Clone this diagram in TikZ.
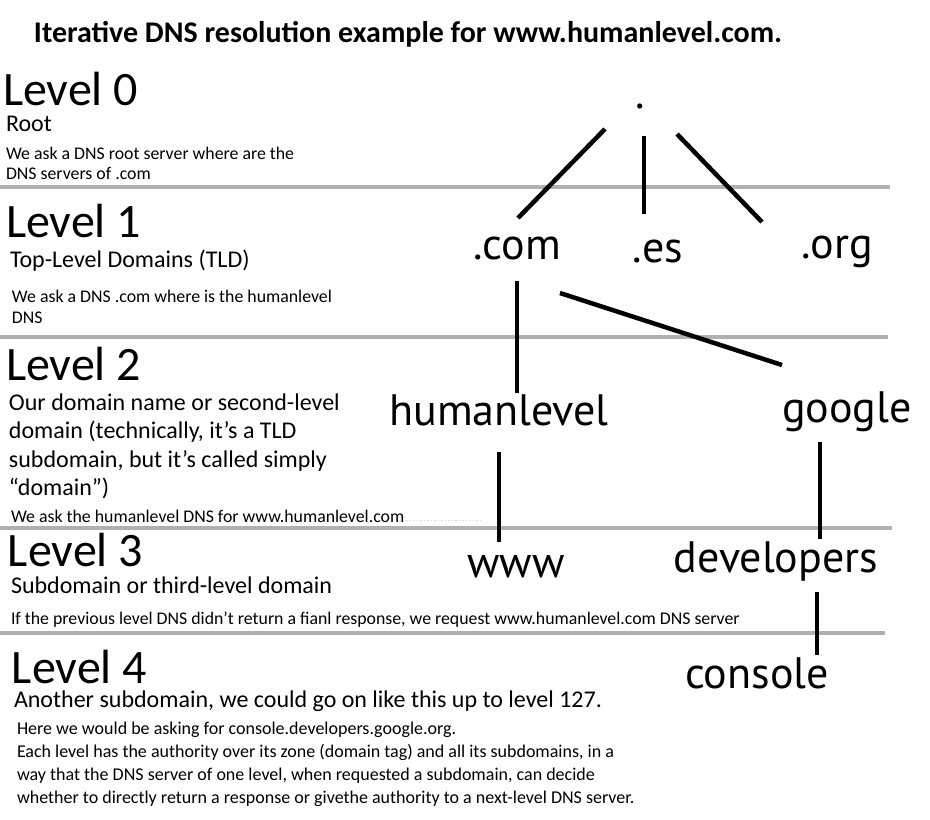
\documentclass[tikz,border=0pt]{standalone}
\usepackage{fontspec}
\setmainfont{Carlito}
\newfontfamily\treefont{PT Sans}
\usetikzlibrary{calc}
\definecolor{sepgray}{RGB}{176,176,176}
\begin{document}
\begin{tikzpicture}[x=1pt,y=-1pt,
  txt/.style={anchor=base west, inner sep=0pt, outer sep=0pt},
  ttl/.style={txt, font=\bfseries\fontsize{30}{30}\selectfont},
  lvl/.style={txt, font=\fontsize{48}{48}\selectfont},
  sub/.style={txt, font=\fontsize{24}{24}\selectfont},
  small/.style={txt, font=\fontsize{17.8}{17.8}\selectfont},
  smaller/.style={txt, font=\fontsize{18}{18}\selectfont},
  tree/.style={anchor=base, inner sep=0pt, outer sep=0pt, font=\treefont\fontsize{44}{44}\selectfont},
  edge/.style={line width=4.5pt, black},
  sepline/.style={line width=4pt, sepgray}]
\fill[white] (0,0) rectangle (930,820);
\useasboundingbox (0,0) rectangle (930,820);

% separators
\coordinate (s0a) at (0,187); \coordinate (s0b) at (890,187);
\coordinate (s1a) at (0,337); \coordinate (s1b) at (888,337);
\coordinate (s2a) at (0,528); \coordinate (s2b) at (892,528);
\coordinate (s3a) at (0,633); \coordinate (s3b) at (885,633);
\draw[sepline] (s0a) -- (s0b);
\draw[sepline] (s1a) -- (s1b);
\draw[sepline] (s2a) -- (s2b);
\draw[sepline] (s3a) -- (s3b);

% title
\node[ttl] (title) at (34,42) {Iterative DNS resolution example for www.humanlevel.com.};

% level 0
\node[lvl] (l0) at (3,105) {Level 0};
\node[sub] (l0s) at (6,131) {Root};
\node[small] (l0a) at (6,159) {We ask a DNS root server where are the};
\node[small] (l0b) at (6,179) {DNS servers of .com};

% level 1
\node[lvl] (l1) at (6,237) {Level 1};
\node[sub] (l1s) at (10,267) {Top-Level Domains (TLD)};
\node[small] (l1a) at (12,302) {We ask a DNS .com where is the humanlevel};
\node[small] (l1b) at (12,323) {DNS};

% level 2
\node[lvl] (l2) at (6,380) {Level 2};
\node[sub] (l2a) at (9,410) {Our domain name or second-level};
\node[sub] (l2b) at (9,438.5) {domain (technically, it’s a TLD};
\node[sub] (l2c) at (9,467) {subdomain, but it’s called simply};
\node[sub] (l2d) at (9,495) {“domain”)};
\node[small] (l2e) at (11,522) {We ask the humanlevel DNS for www.humanlevel.com};
\coordinate (dota) at (399,520); \coordinate (dotb) at (480,520);
\draw[gray!30, line width=0.8pt, dash pattern=on 1.5pt off 2pt] (dota) -- (dotb);

% level 3
\node[lvl] (l3) at (8,566) {Level 3};
\node[sub] (l3s) at (11,593) {Subdomain or third-level domain};
\node[small] (l3a) at (11,624) {If the previous level DNS didn’t return a fianl response, we request www.humanlevel.com DNS server};

% level 4
\node[lvl] (l4) at (12,683) {Level 4};
\node[sub] (l4s) at (14,707) {Another subdomain, we could go on like this up to level 127.};
\node[smaller] (l4a) at (17,734) {Here we would be asking for console.developers.google.org.};
\node[smaller] (l4b) at (17,757) {Each level has the authority over its zone (domain tag) and all its subdomains, in a};
\node[smaller] (l4c) at (17,780) {way that the DNS server of one level, when requested a subdomain, can decide};
\node[smaller] (l4d) at (17,803) {whether to directly return a response or givethe authority to a next-level DNS server.};

% tree
\node[tree] (root) at (640,108) {.};
\node[tree] (com) at (517,259) {.com};
\node[tree] (es) at (658,262) {.es};
\node[tree] (org) at (837,258) {.org};
\node[tree] (hl) at (499,425) {humanlevel};
\node[tree] (goo) at (847,422) {google};
\node[tree] (www) at (516,577) {www};
\node[tree] (dev) at (776,572) {developers};
\node[tree] (con) at (757,688) {console};

\draw[edge] ($(root.base)+(-35,21)$) -- ($(com.base)+(1,-41)$);
\draw[edge] ($(root.base)+(4,28)$) -- ($(es.base)+(-14,-48)$);
\draw[edge] ($(root.base)+(37,26)$) -- ($(org.base)+(-75,-36)$);
\draw[edge] ($(com.base)+(0,22)$) -- ($(hl.base)+(18,-32)$);
\draw[edge] ($(com.base)+(43,34)$) -- ($(goo.base)+(-65,-57)$);
\draw[edge] ($(hl.base)+(0,27)$) -- ($(www.base)+(-17,-35)$);
\draw[edge] ($(goo.base)+(-27,20)$) -- ($(dev.base)+(44,-33)$);
\draw[edge] ($(dev.base)+(41,20)$) -- ($(con.base)+(60,-33)$);
\end{tikzpicture}
\end{document}
